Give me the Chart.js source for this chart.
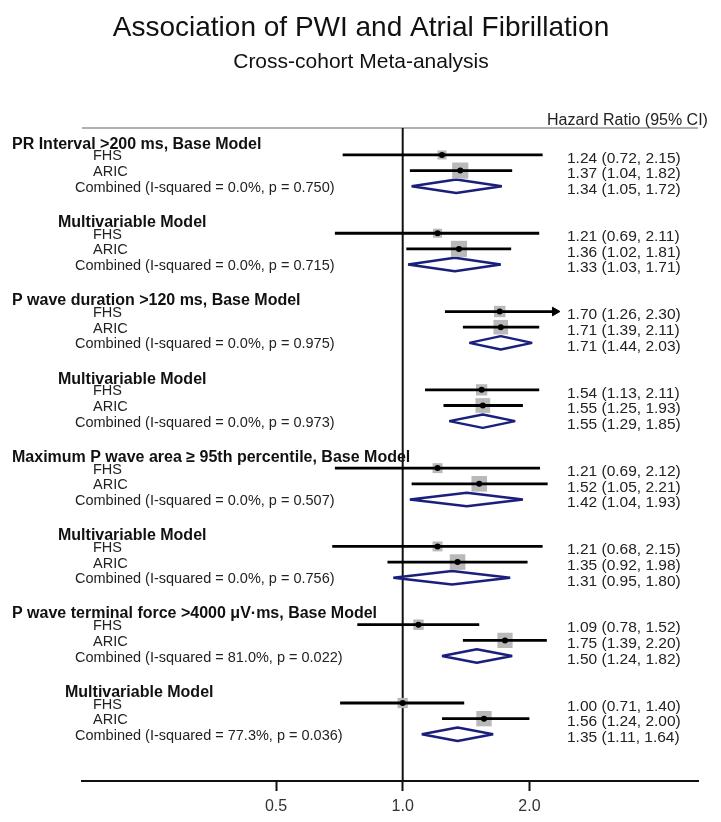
<!DOCTYPE html>
<html lang="en">
<head>
    <meta charset="UTF-8">
    <title>Association of PWI and Atrial Fibrillation</title>
    <script src="https://cdn.jsdelivr.net/npm/chart.js"></script>
    <style>
        body { margin: 0; background: #fff; }
        canvas { display: block; }
    </style>
</head>
<body>
    <canvas id="forestChart" width="721" height="822"></canvas>

    <script>
        // section headings, one per block of rows
        const blockTitles = [
            'PR Interval >200 ms, Base Model',
            'Multivariable Model',
            'P wave duration >120 ms, Base Model',
            'Multivariable Model',
            'Maximum P wave area \u2265 95th percentile, Base Model',
            'Multivariable Model',
            'P wave terminal force >4000 \u03bcV\u00b7ms, Base Model',
            'Multivariable Model'
        ];

        // FHS cohort
        const fhsHR = [1.24, 1.21, 1.70, 1.54, 1.21, 1.21, 1.09, 1.00];
        const fhsLo = [0.72, 0.69, 1.26, 1.13, 0.69, 0.68, 0.78, 0.71];
        const fhsHi = [2.15, 2.11, 2.30, 2.11, 2.12, 2.15, 1.52, 1.40];
        const fhsWeight = [24, 24, 38, 37, 29, 29, 32, 31];

        // ARIC cohort
        const aricHR = [1.37, 1.36, 1.71, 1.55, 1.52, 1.35, 1.75, 1.56];
        const aricLo = [1.04, 1.02, 1.39, 1.25, 1.05, 0.92, 1.39, 1.24];
        const aricHi = [1.82, 1.81, 2.11, 1.93, 2.21, 1.98, 2.20, 2.00];
        const aricWeight = [76, 76, 62, 63, 71, 71, 68, 69];

        // pooled estimates
        const combHR = [1.34, 1.33, 1.71, 1.55, 1.42, 1.31, 1.50, 1.35];
        const combLo = [1.05, 1.03, 1.44, 1.29, 1.04, 0.95, 1.24, 1.11];
        const combHi = [1.72, 1.71, 2.03, 1.85, 1.93, 1.80, 1.82, 1.64];
        const iSquared = ['0.0', '0.0', '0.0', '0.0', '0.0', '0.0', '81.0', '77.3'];
        const pHet = ['0.750', '0.715', '0.975', '0.973', '0.507', '0.756', '0.022', '0.036'];

        const xTicks = [0.5, 1, 2];

        const ROWS = 5;          // heading, FHS, ARIC, Combined, blank
        const CLIP = 2.25;       // CIs beyond this end in an arrow
        const FONT = '"Liberation Sans", Arial, sans-serif';
        const NAVY = '#1b1f7c';

        const row = (b, k) => b * ROWS + k;
        const fmt = v => v.toFixed(2);
        const boxRadius = w => 1.85 * Math.sqrt(w) / Math.SQRT2;

        const dots = [], boxes = [], boxSizes = [], ciLines = [], arrows = [], diamonds = [];
        blockTitles.forEach((t, b) => {
            const studies = [
                [fhsHR[b], fhsLo[b], fhsHi[b], fhsWeight[b], row(b, 1)],
                [aricHR[b], aricLo[b], aricHi[b], aricWeight[b], row(b, 2)]
            ];
            studies.forEach(([hr, lo, hi, w, y]) => {
                dots.push({ x: hr, y: y });
                boxes.push({ x: hr, y: y });
                boxSizes.push(boxRadius(w));
                ciLines.push({ x: lo, y: y }, { x: hi, y: y }, { x: hi, y: null });
                if (hi > CLIP) arrows.push({ x: hi, y: y });
            });
            // diamond outline, first edge repeated so every corner gets a join
            const y = row(b, 3), h = 0.43;
            diamonds.push(
                { x: combLo[b], y: y }, { x: combHR[b], y: y - h },
                { x: combHi[b], y: y }, { x: combHR[b], y: y + h },
                { x: combLo[b], y: y }, { x: combHR[b], y: y - h },
                { x: combHR[b], y: null }
            );
        });

        const textPlugin = {
            id: 'forestText',
            beforeDatasetsDraw(chart) {
                const { ctx, chartArea, scales } = chart;
                ctx.save();
                // header rule
                ctx.strokeStyle = '#b0b0b0';
                ctx.lineWidth = 2;
                ctx.beginPath();
                ctx.moveTo(chartArea.left, chartArea.top);
                ctx.lineTo(chartArea.right, chartArea.top);
                ctx.stroke();
                // line of no effect
                const x1 = scales.x.getPixelForValue(1);
                ctx.strokeStyle = '#111';
                ctx.beginPath();
                ctx.moveTo(x1, chartArea.top);
                ctx.lineTo(x1, chartArea.bottom);
                ctx.stroke();
                ctx.restore();
            },
            afterDraw(chart) {
                const { ctx, scales } = chart;
                const yPix = v => scales.y.getPixelForValue(v);
                ctx.save();
                ctx.fillStyle = '#111';
                ctx.textAlign = 'center';
                ctx.textBaseline = 'middle';
                ctx.font = '28px ' + FONT;
                ctx.fillText('Association of PWI and Atrial Fibrillation', 361, 28);
                ctx.font = '21px ' + FONT;
                ctx.fillText('Cross-cohort Meta-analysis', 361, 62);

                ctx.textAlign = 'left';
                ctx.fillStyle = '#222';
                ctx.font = '16px ' + FONT;
                ctx.fillText('Hazard Ratio (95% CI)', 547, 121);

                blockTitles.forEach((t, b) => {
                    ctx.fillStyle = '#111';
                    ctx.font = 'bold 16px ' + FONT;
                    const indent = b % 2 === 0 ? 12 : (b === 7 ? 65 : 58);
                    ctx.fillText(t, indent, yPix(row(b, 0)) + 5);

                    ctx.fillStyle = '#222';
                    ctx.font = '14.5px ' + FONT;
                    ctx.fillText('FHS', 93, yPix(row(b, 1)) + 1.5);
                    ctx.fillText('ARIC', 93, yPix(row(b, 2)) + 1.5);
                    ctx.fillText('Combined (I-squared = ' + iSquared[b] + '%, p = ' + pHet[b] + ')', 75, yPix(row(b, 3)) + 1.5);

                    ctx.font = '15.5px ' + FONT;
                    const est = [
                        [fhsHR[b], fhsLo[b], fhsHi[b]],
                        [aricHR[b], aricLo[b], aricHi[b]],
                        [combHR[b], combLo[b], combHi[b]]
                    ];
                    est.forEach(([e, lo, hi], k) => {
                        ctx.fillText(fmt(e) + ' (' + fmt(lo) + ', ' + fmt(hi) + ')', 567, yPix(row(b, k + 1)) + 3.5);
                    });
                });
                ctx.restore();
            }
        };

        new Chart(document.getElementById('forestChart'), {
            type: 'scatter',
            data: {
                datasets: [
                    {
                        label: 'Estimate',
                        data: dots,
                        pointStyle: 'circle',
                        pointRadius: 3,
                        backgroundColor: '#000',
                        borderWidth: 0
                    },
                    {
                        label: 'Arrow',
                        data: arrows,
                        pointStyle: 'triangle',
                        rotation: 90,
                        pointRadius: 5,
                        backgroundColor: '#000',
                        borderColor: '#000',
                        borderWidth: 1
                    },
                    {
                        label: '95% CI',
                        data: ciLines,
                        showLine: true,
                        spanGaps: false,
                        borderColor: '#000',
                        borderWidth: 2.8,
                        pointRadius: 0
                    },
                    {
                        label: 'Weight',
                        data: boxes,
                        pointStyle: 'rect',
                        pointRadius: boxSizes,
                        backgroundColor: '#b9b9b9',
                        borderWidth: 0
                    },
                    {
                        label: 'Combined',
                        data: diamonds,
                        showLine: true,
                        spanGaps: false,
                        borderColor: NAVY,
                        borderWidth: 2.5,
                        borderJoinStyle: 'bevel',
                        pointRadius: 0,
                        tension: 0
                    }
                ]
            },
            options: {
                responsive: false,
                animation: false,
                devicePixelRatio: 1,
                layout: { padding: { top: 128, left: 82, right: 23, bottom: 0 } },
                plugins: {
                    legend: { display: false },
                    tooltip: { enabled: false }
                },
                scales: {
                    x: {
                        type: 'logarithmic',
                        min: 0.173,
                        max: 5.03,
                        afterBuildTicks: scale => { scale.ticks = xTicks.map(v => ({ value: v })); },
                        afterFit: scale => { scale.height = 41; },
                        ticks: {
                            callback: v => Number(v).toFixed(1),
                            color: '#333',
                            font: { size: 16, family: FONT },
                            padding: 6,
                            maxRotation: 0
                        },
                        grid: {
                            drawOnChartArea: false,
                            drawTicks: true,
                            tickLength: 10,
                            tickWidth: 2,
                            tickColor: '#111'
                        },
                        border: { display: true, color: '#111', width: 2 }
                    },
                    y: {
                        type: 'linear',
                        display: false,
                        reverse: true,
                        min: -0.72,
                        max: 40.98
                    }
                }
            },
            plugins: [textPlugin]
        });
    </script>
</body>
</html>
